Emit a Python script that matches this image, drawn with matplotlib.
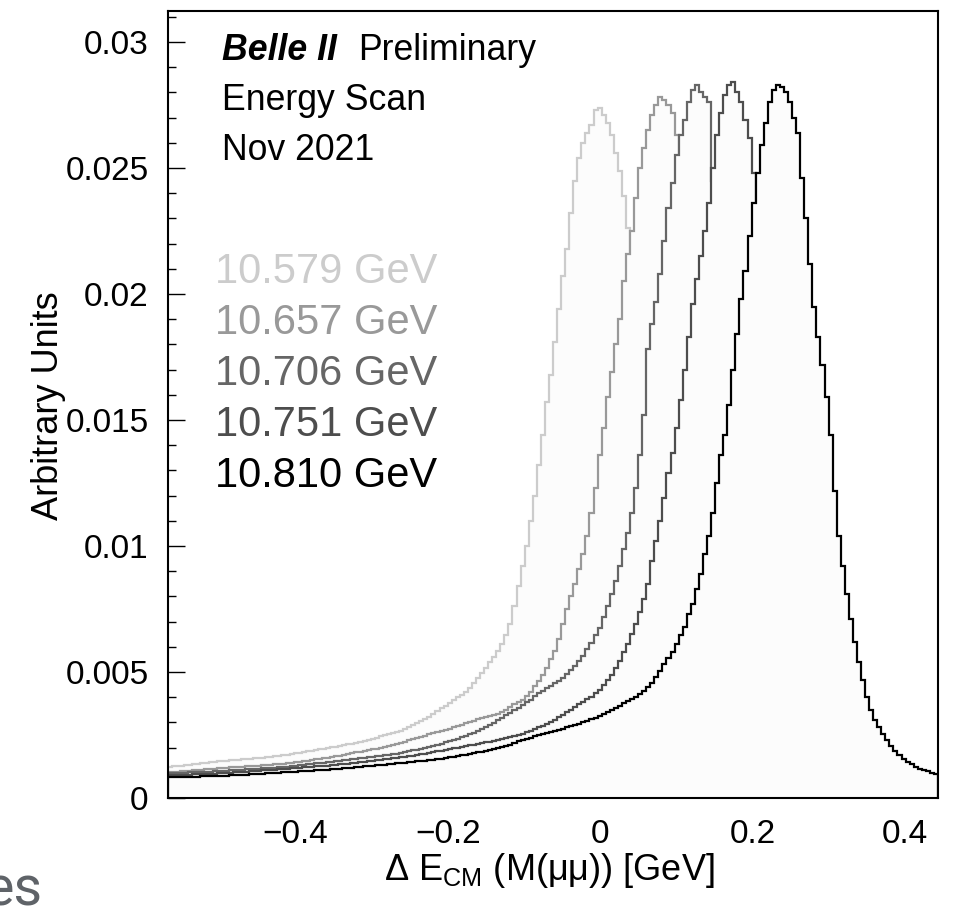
import matplotlib
matplotlib.use("Agg")
import matplotlib.pyplot as plt
from matplotlib.ticker import MultipleLocator, FuncFormatter
import numpy as np

plt.rcParams["font.family"] = ["Liberation Sans", "DejaVu Sans"]
plt.rcParams["mathtext.fontset"] = "custom"
plt.rcParams["mathtext.rm"] = "Liberation Sans"
plt.rcParams["mathtext.it"] = "Liberation Sans:italic"

# histogram range and binning
x_lo, x_hi, n_bins = -0.567, 0.443, 190
y_hi = 0.03123
unit = 1e-3  # values below are in units of 1e-3

labels = ["10.579 GeV", "10.657 GeV", "10.706 GeV", "10.751 GeV", "10.810 GeV"]

e10579 = [
    1.23, 1.25, 1.26, 1.28, 1.30, 1.32, 1.33, 1.35, 1.37, 1.40,
    1.42, 1.43, 1.45, 1.46, 1.47, 1.49, 1.50, 1.52, 1.53, 1.55,
    1.56, 1.57, 1.59, 1.60, 1.61, 1.63, 1.65, 1.67, 1.70, 1.72,
    1.75, 1.77, 1.80, 1.82, 1.85, 1.87, 1.90, 1.93, 1.95, 1.98,
    2.01, 2.04, 2.07, 2.10, 2.13, 2.16, 2.19, 2.22, 2.25, 2.30,
    2.36, 2.40, 2.45, 2.49, 2.54, 2.58, 2.63, 2.67, 2.72, 2.80,
    2.88, 2.97, 3.04, 3.12, 3.22, 3.35, 3.45, 3.56, 3.67, 3.78,
    3.89, 4.00, 4.10, 4.22, 4.37, 4.55, 4.75, 4.95, 5.15, 5.38,
    5.60, 5.85, 6.10, 6.45, 6.90, 7.60, 8.40, 9.20, 10.0, 11.0,
    12.0, 13.2, 14.4, 15.7, 16.8, 18.1, 19.4, 20.7, 21.8, 23.2,
    24.5, 25.4, 26.0, 26.4, 26.7, 27.3, 27.4, 27.1, 26.8, 26.3,
    25.6, 24.9, 23.9, 22.6, 21.0, 19.3, 17.5, 15.6, 13.8, 12.0,
    10.4, 8.9, 7.5, 6.3, 5.2, 4.3, 3.5, 2.8, 2.3, 1.8,
    1.50, 1.25, 1.05, 0.90, 0.78, 0.68, 0.60, 0.53, 0.47, 0.42,
    0.38, 0.34, 0.31, 0.28, 0.26, 0.24, 0.22, 0.20, 0.19, 0.18,
    0.17, 0.16, 0.16, 0.15, 0.15, 0.14, 0.14, 0.13, 0.13, 0.13,
    0.12, 0.12, 0.12, 0.12, 0.11, 0.11, 0.11, 0.11, 0.11, 0.10,
    0.10, 0.10, 0.10, 0.10, 0.10, 0.10, 0.10, 0.10, 0.10, 0.10,
    0.10, 0.10, 0.09, 0.09, 0.09, 0.09, 0.09, 0.09, 0.09, 0.09,
]

e10657 = [
    1.03, 1.04, 1.05, 1.06, 1.08, 1.09, 1.10, 1.11, 1.13, 1.14,
    1.16, 1.17, 1.18, 1.20, 1.21, 1.22, 1.23, 1.24, 1.24, 1.25,
    1.26, 1.27, 1.28, 1.30, 1.31, 1.32, 1.33, 1.35, 1.36, 1.38,
    1.39, 1.41, 1.43, 1.46, 1.48, 1.51, 1.53, 1.56, 1.58, 1.60,
    1.62, 1.65, 1.68, 1.71, 1.74, 1.77, 1.81, 1.84, 1.87, 1.90,
    1.93, 1.96, 2.00, 2.04, 2.08, 2.12, 2.15, 2.19, 2.24, 2.29,
    2.34, 2.39, 2.44, 2.48, 2.53, 2.58, 2.62, 2.66, 2.70, 2.75,
    2.80, 2.85, 2.90, 2.96, 3.02, 3.07, 3.12, 3.17, 3.20, 3.24,
    3.28, 3.34, 3.40, 3.48, 3.60, 3.72, 3.82, 3.90, 4.05, 4.20,
    4.45, 4.65, 4.90, 5.15, 5.50, 5.85, 6.30, 6.90, 7.50, 8.00,
    8.50, 9.10, 9.70, 10.4, 11.3, 12.3, 13.6, 14.7, 15.9, 16.9,
    18.0, 19.0, 20.5, 21.6, 22.5, 23.8, 25.0, 25.8, 26.5, 27.1,
    27.5, 27.8, 27.7, 27.5, 27.2, 26.3, 25.2, 23.8, 22.0, 20.0,
    17.8, 15.5, 13.3, 11.2, 9.3, 7.6, 6.2, 5.0, 4.0, 3.2,
    2.5, 2.0, 1.6, 1.3, 1.05, 0.88, 0.75, 0.66, 0.58, 0.52,
    0.47, 0.43, 0.39, 0.36, 0.33, 0.31, 0.29, 0.27, 0.25, 0.24,
    0.23, 0.22, 0.21, 0.20, 0.19, 0.18, 0.18, 0.17, 0.17, 0.16,
    0.16, 0.15, 0.15, 0.15, 0.14, 0.14, 0.14, 0.13, 0.13, 0.13,
    0.13, 0.12, 0.12, 0.12, 0.12, 0.11, 0.11, 0.11, 0.11, 0.11,
]

e10706 = [
    0.99, 0.99, 1.00, 1.01, 1.01, 1.02, 1.02, 1.03, 1.03, 1.04,
    1.05, 1.06, 1.07, 1.08, 1.09, 1.10, 1.11, 1.12, 1.13, 1.14,
    1.15, 1.16, 1.17, 1.18, 1.19, 1.20, 1.21, 1.22, 1.23, 1.24,
    1.26, 1.28, 1.30, 1.32, 1.33, 1.35, 1.37, 1.38, 1.40, 1.42,
    1.44, 1.46, 1.48, 1.50, 1.52, 1.54, 1.56, 1.58, 1.60, 1.62,
    1.64, 1.66, 1.68, 1.70, 1.72, 1.74, 1.76, 1.79, 1.82, 1.86,
    1.89, 1.92, 1.96, 2.00, 2.04, 2.08, 2.12, 2.16, 2.21, 2.26,
    2.31, 2.36, 2.41, 2.47, 2.53, 2.59, 2.66, 2.73, 2.81, 2.90,
    2.99, 3.08, 3.18, 3.28, 3.38, 3.48, 3.58, 3.70, 3.80, 3.90,
    4.05, 4.15, 4.25, 4.35, 4.45, 4.55, 4.66, 4.78, 4.93, 5.08,
    5.25, 5.45, 5.65, 5.90, 6.15, 6.45, 6.75, 7.20, 7.60, 8.10,
    8.60, 9.20, 9.90, 10.5, 11.3, 12.3, 13.6, 15.2, 17.8, 18.8,
    19.7, 20.8, 22.1, 23.4, 24.4, 25.5, 26.3, 26.9, 27.6, 28.1,
    28.3, 28.0, 27.8, 27.6, 24.5, 23.5, 22.0, 20.0, 17.8, 15.6,
    13.5, 11.5, 9.7, 8.1, 6.7, 5.5, 4.5, 3.6, 2.9, 2.3,
    1.85, 1.50, 1.22, 1.00, 0.85, 0.73, 0.63, 0.55, 0.48, 0.43,
    0.39, 0.36, 0.33, 0.31, 0.29, 0.27, 0.25, 0.24, 0.23, 0.22,
    0.21, 0.20, 0.19, 0.18, 0.18, 0.17, 0.17, 0.16, 0.16, 0.15,
    0.15, 0.15, 0.14, 0.14, 0.14, 0.13, 0.13, 0.13, 0.13, 0.12,
]

e10751 = [
    0.91, 0.91, 0.92, 0.92, 0.93, 0.93, 0.94, 0.95, 0.95, 0.96,
    0.97, 0.97, 0.98, 0.99, 1.00, 1.01, 1.02, 1.03, 1.04, 1.05,
    1.06, 1.07, 1.09, 1.10, 1.11, 1.12, 1.13, 1.15, 1.16, 1.17,
    1.19, 1.20, 1.21, 1.22, 1.23, 1.24, 1.25, 1.26, 1.27, 1.28,
    1.30, 1.31, 1.33, 1.35, 1.36, 1.38, 1.40, 1.42, 1.44, 1.46,
    1.48, 1.50, 1.52, 1.54, 1.56, 1.58, 1.60, 1.62, 1.64, 1.66,
    1.68, 1.70, 1.73, 1.76, 1.79, 1.82, 1.85, 1.88, 1.91, 1.94,
    1.97, 2.00, 2.03, 2.06, 2.09, 2.12, 2.15, 2.18, 2.21, 2.24,
    2.27, 2.31, 2.35, 2.39, 2.42, 2.46, 2.50, 2.55, 2.60, 2.65,
    2.73, 2.80, 2.87, 2.94, 3.02, 3.10, 3.20, 3.30, 3.40, 3.50,
    3.60, 3.72, 3.82, 3.92, 4.02, 4.15, 4.30, 4.48, 4.68, 4.90,
    5.15, 5.45, 5.80, 6.10, 6.50, 6.90, 7.40, 7.90, 8.50, 9.40,
    10.2, 11.0, 11.9, 12.9, 13.7, 14.7, 15.8, 17.0, 18.3, 19.6,
    20.6, 21.5, 22.5, 23.6, 25.0, 26.3, 27.2, 27.9, 28.3, 28.4,
    28.0, 27.6, 26.9, 26.2, 24.8, 23.0, 21.0, 18.8, 16.5, 14.2,
    12.0, 10.0, 8.2, 6.6, 5.3, 4.2, 3.3, 2.6, 2.05, 1.60,
    1.30, 1.05, 0.88, 0.75, 0.65, 0.57, 0.50, 0.45, 0.41, 0.37,
    0.34, 0.31, 0.29, 0.27, 0.25, 0.24, 0.22, 0.21, 0.20, 0.19,
    0.18, 0.18, 0.17, 0.16, 0.16, 0.15, 0.15, 0.15, 0.14, 0.14,
]

e10810 = [
    0.83, 0.83, 0.83, 0.84, 0.84, 0.84, 0.85, 0.85, 0.86, 0.86,
    0.87, 0.87, 0.88, 0.88, 0.89, 0.90, 0.91, 0.91, 0.92, 0.93,
    0.94, 0.95, 0.96, 0.97, 0.98, 0.99, 1.00, 1.01, 1.02, 1.03,
    1.04, 1.05, 1.06, 1.07, 1.08, 1.09, 1.10, 1.11, 1.12, 1.13,
    1.14, 1.15, 1.17, 1.18, 1.19, 1.21, 1.22, 1.23, 1.25, 1.26,
    1.28, 1.29, 1.31, 1.32, 1.34, 1.35, 1.37, 1.39, 1.40, 1.42,
    1.43, 1.45, 1.46, 1.48, 1.50, 1.52, 1.54, 1.56, 1.58, 1.61,
    1.63, 1.66, 1.69, 1.72, 1.75, 1.78, 1.81, 1.84, 1.87, 1.90,
    1.93, 1.97, 2.01, 2.06, 2.12, 2.19, 2.25, 2.30, 2.35, 2.40,
    2.45, 2.49, 2.53, 2.58, 2.62, 2.66, 2.70, 2.75, 2.80, 2.85,
    2.90, 2.95, 3.00, 3.06, 3.12, 3.19, 3.26, 3.34, 3.42, 3.50,
    3.59, 3.67, 3.75, 3.83, 3.92, 4.02, 4.12, 4.25, 4.40, 4.58,
    4.80, 5.05, 5.30, 5.55, 5.80, 6.10, 6.45, 6.80, 7.30, 7.70,
    8.30, 8.90, 9.70, 10.4, 11.3, 12.5, 13.6, 14.4, 15.6, 17.0,
    18.4, 19.8, 20.9, 22.3, 23.6, 24.8, 25.9, 26.8, 27.6, 28.1,
    28.3, 28.2, 28.0, 27.6, 27.0, 26.4, 24.6, 23.0, 21.2, 19.5,
    18.3, 17.2, 15.9, 14.4, 12.2, 10.4, 9.2, 8.1, 7.1, 6.2,
    5.4, 4.7, 4.0, 3.5, 3.1, 2.8, 2.55, 2.30, 2.08, 1.88,
    1.70, 1.55, 1.43, 1.33, 1.24, 1.17, 1.11, 1.06, 1.00, 0.95,
]

series = [e10579, e10657, e10706, e10751, e10810]
colors = ["#cccccc", "#999999", "#666666", "#4d4d4d", "#000000"]
fill_color = "#fcfcfc"

W, H = 957, 908
fig = plt.figure(figsize=(W / 100, H / 100), dpi=100)
ax = fig.add_axes([168 / W, 1 - 798 / H, 770 / W, 787 / H])

edges = np.linspace(x_lo, x_hi, n_bins + 1)
for k, (vals, c) in enumerate(zip(series, colors)):
    v = np.array(vals) * unit
    ax.stairs(v, edges, fill=True, color=fill_color, lw=0, zorder=2 + 2 * k)
    ax.stairs(v, edges, color=c, lw=1.6, zorder=3 + 2 * k)

ax.set_xlim(x_lo, x_hi)
ax.set_ylim(0, y_hi)

ax.xaxis.set_major_locator(MultipleLocator(0.2))
ax.xaxis.set_minor_locator(MultipleLocator(0.05))
ax.yaxis.set_major_locator(MultipleLocator(0.005))
ax.yaxis.set_minor_locator(MultipleLocator(0.001))


def fmt(v, pos):
    v = round(v, 6)
    if abs(v) < 1e-9:
        return "0"
    return f"{v:g}".replace("-", "\u2212")


ax.xaxis.set_major_formatter(FuncFormatter(fmt))
ax.yaxis.set_major_formatter(FuncFormatter(fmt))

ax.tick_params(which="both", direction="in", top=False, right=False,
               width=1, labelsize=24)
ax.tick_params(axis="x", which="major", length=16, pad=15)
ax.tick_params(axis="x", which="minor", length=9)
ax.tick_params(axis="y", which="major", length=12, pad=14)
ax.tick_params(axis="y", which="minor", length=6)
for s in ax.spines.values():
    s.set_linewidth(1.5)
    s.set_zorder(20)


def fx(px):
    return px / W


def fy(py):
    return 1 - py / H


fig.text(fx(48), fy(406), "Arbitrary Units", rotation=90, fontsize=26,
         ha="center", va="center")
fig.text(fx(549), fy(880), "\u0394 $\\mathrm{E}_{\\mathrm{CM}}$ (M(\u03bc\u03bc)) [GeV]",
         fontsize=26, ha="center", va="baseline")

# header text
fig.text(fx(222), fy(60), "Belle II", fontsize=25.7, fontweight="bold",
         style="italic", va="baseline")
fig.text(fx(358), fy(60), "Preliminary", fontsize=25.7, va="baseline")
fig.text(fx(222), fy(110), "Energy Scan", fontsize=25.7, va="baseline")
fig.text(fx(222), fy(160), "Nov 2021", fontsize=25.7, va="baseline")

# energy labels
for k, (lab, c) in enumerate(zip(labels, colors)):
    fig.text(fx(215), fy(283 + 51 * k), lab, fontsize=30, color=c,
             va="baseline")

# cropped slide text at the lower left
fig.text(fx(43), fy(906), "es", fontsize=40, color="#5f6368",
         family="Roboto", ha="right", va="baseline")

fig.savefig("out.png", dpi=100)
